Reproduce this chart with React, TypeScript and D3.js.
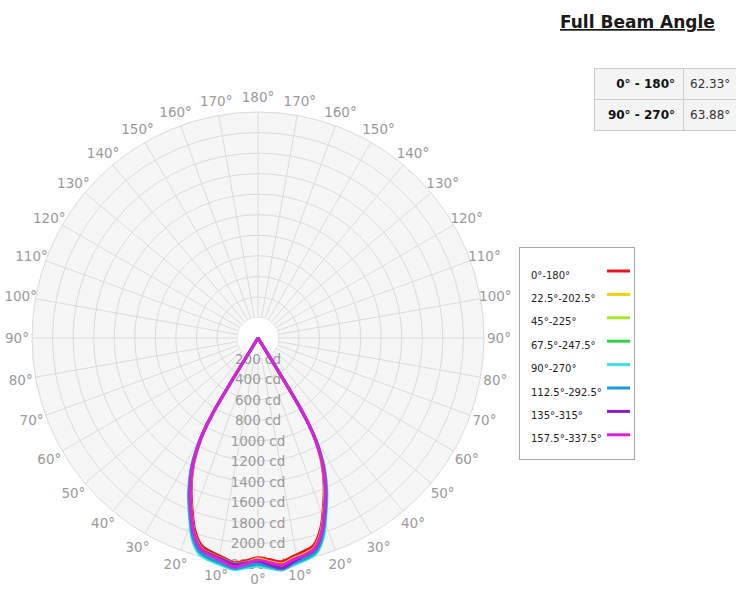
import React from 'react';
import { scaleLinear, lineRadial, curveCatmullRom, range } from 'd3';

// gamma angles (deg from nadir) that were read for every C plane
const gammaAngles = [0, 3, 6, 9, 12, 15, 18, 21, 24, 27, 29, 30, 31, 32];

// intensities in cd, left half / right half of every plane pair
const c0 = [2140, 2170, 2200, 2165, 2135, 2100, 1980, 1790, 1600, 1385, 1190, 1060, 840, 0];
const c180 = [2140, 2160, 2190, 2155, 2125, 2090, 1965, 1775, 1585, 1370, 1175, 1045, 815, 0];
const c22 = [2150, 2190, 2230, 2190, 2160, 2125, 2005, 1810, 1620, 1400, 1200, 1070, 850, 0];
const c202 = [2150, 2180, 2210, 2175, 2150, 2115, 1985, 1790, 1600, 1380, 1180, 1050, 820, 0];
const c45 = [2165, 2185, 2210, 2180, 2155, 2125, 2005, 1810, 1620, 1400, 1200, 1070, 850, 0];
const c225 = [2165, 2205, 2245, 2200, 2160, 2125, 1995, 1800, 1610, 1390, 1190, 1060, 830, 0];
const c67 = [2195, 2220, 2250, 2220, 2195, 2160, 2040, 1840, 1645, 1423, 1220, 1085, 860, 0];
const c247 = [2195, 2225, 2255, 2215, 2190, 2155, 2025, 1825, 1630, 1407, 1205, 1070, 835, 0];
const c90 = [2220, 2240, 2265, 2240, 2215, 2185, 2065, 1860, 1665, 1440, 1235, 1095, 870, 0];
const c270 = [2220, 2245, 2270, 2235, 2210, 2175, 2050, 1845, 1650, 1425, 1220, 1080, 845, 0];
const c112 = [2200, 2225, 2255, 2225, 2200, 2165, 2045, 1845, 1650, 1428, 1225, 1090, 865, 0];
const c292 = [2200, 2230, 2260, 2220, 2195, 2160, 2030, 1830, 1635, 1412, 1210, 1075, 840, 0];
const c135 = [2170, 2190, 2215, 2185, 2160, 2130, 2010, 1815, 1625, 1405, 1205, 1075, 855, 0];
const c315 = [2170, 2210, 2250, 2205, 2165, 2130, 2000, 1805, 1615, 1395, 1195, 1065, 835, 0];
const c157 = [2160, 2200, 2240, 2200, 2170, 2135, 2015, 1820, 1630, 1410, 1210, 1080, 860, 0];
const c337 = [2160, 2190, 2220, 2185, 2160, 2125, 1995, 1800, 1610, 1390, 1190, 1060, 830, 0];

const planeNames = ['0°-180°', '22.5°-202.5°', '45°-225°', '67.5°-247.5°', '90°-270°', '112.5°-292.5°', '135°-315°', '157.5°-337.5°'];
const planeColors = ['#e8141e', '#f2d20c', '#a6e22e', '#2fd24a', '#3fe0dc', '#1a9ad6', '#8a1fc4', '#e01ee0'];
const leftHalves = [c0, c22, c45, c67, c90, c112, c135, c157];
const rightHalves = [c180, c202, c225, c247, c270, c292, c315, c337];

const cdTicks = [200, 400, 600, 800, 1000, 1200, 1400, 1600, 1800, 2000, 2200];
const angleLabels = range(0, 190, 10);

const beamRows = ['0° - 180°', '90° - 270°'];
const beamValues = ['62.33°', '63.88°'];

const width = 736;
const height = 589;
const cx = 258;
const cy = 338;
const font = '"DejaVu Sans", Verdana, sans-serif';

const rScale = scaleLinear().domain([0, 2200]).range([0, 226]);
const rad = (deg: number) => (deg * Math.PI) / 180;
// d3 radial angle: 0 = up, clockwise. nadir is PI
const polar = (a: number, r: number) => [cx + r * Math.sin(a), cy - r * Math.cos(a)];

const PolarChart = () => {
  const rMax = rScale(2200);
  const rHole = rScale(200);

  const line = lineRadial<[number, number]>()
    .angle(d => d[0])
    .radius(d => rScale(d[1]))
    .curve(curveCatmullRom.alpha(0.5));

  const curves = planeNames.map((name, i) => {
    const left = gammaAngles.map((g, j) => [Math.PI + rad(g), leftHalves[i][j]] as [number, number]).reverse();
    const right = gammaAngles.slice(1).map((g, j) => [Math.PI - rad(g), rightHalves[i][j + 1]] as [number, number]);
    return (
      <path
        key={name}
        d={line([...left, ...right]) || ''}
        transform={`translate(${cx},${cy})`}
        fill="none"
        stroke={planeColors[i]}
        strokeWidth={3}
        strokeLinejoin="round"
      />
    );
  });

  const spokes = range(0, 360, 10).map(a => {
    const [x1, y1] = polar(rad(a), rHole);
    const [x2, y2] = polar(rad(a), rMax);
    return <line key={a} x1={x1} y1={y1} x2={x2} y2={y2} stroke="#dadada" strokeWidth={1} />;
  });

  const rings = cdTicks.map(v => (
    <circle key={v} cx={cx} cy={cy} r={rScale(v)} fill="none" stroke="#dadada" strokeWidth={1} />
  ));

  const labelR = 241;
  const angleText = angleLabels.flatMap(g => {
    const sides = g === 0 || g === 180 ? [Math.PI - rad(g)] : [Math.PI + rad(g), Math.PI - rad(g)];
    return sides.map((a, k) => {
      const [x, y] = polar(a, labelR);
      return (
        <text key={`${g}-${k}`} x={x} y={y} textAnchor="middle" dominantBaseline="central"
          fontSize={13.5} fill="#9a9a9a" fontFamily={font}>{g}°</text>
      );
    });
  });

  const cdText = cdTicks.map(v => (
    <text key={v} x={cx} y={cy + rScale(v)} textAnchor="middle" dominantBaseline="central"
      fontSize={13.5} fill="#9a9a9a" fontFamily={font}>{v} cd</text>
  ));

  return (
    <g>
      <circle cx={cx} cy={cy} r={rMax} fill="#f6f6f6" />
      {rings}
      {spokes}
      <circle cx={cx} cy={cy} r={rHole} fill="#ffffff" />
      {angleText}
      {cdText}
      {curves}
    </g>
  );
};

const Legend = () => {
  const x0 = 519.5;
  const y0 = 247.5;
  return (
    <g>
      <rect x={x0} y={y0} width={115} height={212} fill="#fff" stroke="#a8a8a8" />
      {planeNames.map((name, i) => {
        const ly = 271 + i * 23.4;
        return (
          <g key={name}>
            <line x1={607} x2={630} y1={ly} y2={ly} stroke={planeColors[i]} strokeWidth={3} />
            <text x={531} y={ly + 4} dominantBaseline="central" fontSize={10} fill="#222" fontFamily={font}>{name}</text>
          </g>
        );
      })}
    </g>
  );
};

const BeamTable = () => (
  <g>
    <text x={560} y={28} fontSize={17} fontWeight="bold" fill="#1a1a1a" fontFamily={font}
      textDecoration="underline">Full Beam Angle</text>
    {beamRows.map((row, i) => {
      const y = 68 + i * 31;
      return (
        <g key={row}>
          <rect x={594.5} y={y + 0.5} width={89} height={31} fill="#f4f4f4" stroke="#cdcdcd" />
          <rect x={683.5} y={y + 0.5} width={60} height={31} fill="#f4f4f4" stroke="#cdcdcd" />
          <text x={675} y={y + 15.5} textAnchor="end" dominantBaseline="central" fontSize={12}
            fontWeight="bold" fill="#111" fontFamily={font}>{row}</text>
          <text x={690} y={y + 15.5} dominantBaseline="central" fontSize={12}
            fill="#333" fontFamily={font}>{beamValues[i]}</text>
        </g>
      );
    })}
  </g>
);

const App = () => (
  <svg width={width} height={height} viewBox={`0 0 ${width} ${height}`}
    style={{ position: 'absolute', left: 0, top: 0, display: 'block', background: '#fff' }}>
    <PolarChart />
    <Legend />
    <BeamTable />
  </svg>
);

export default App;
